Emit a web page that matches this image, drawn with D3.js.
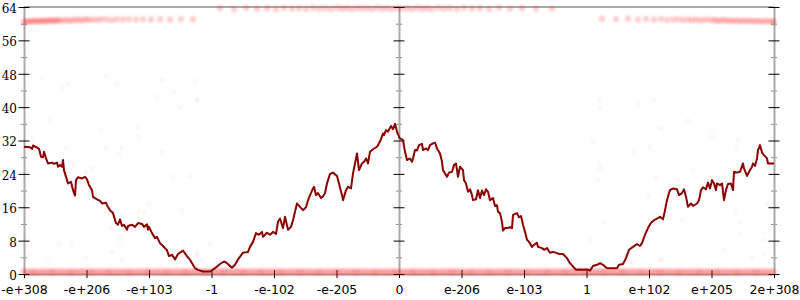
<!DOCTYPE html>
<html>
<head>
<meta charset="utf-8">
<script src="https://cdn.jsdelivr.net/npm/d3@7"></script>
<style>
  body { margin: 0; background: #fff; }
</style>
</head>
<body>
<svg id="chart"></svg>
<script>
const margin = {top: 7, right: 26, bottom: 26, left: 24},
    width = 800 - margin.left - margin.right,
    height = 300 - margin.top - margin.bottom;

// x is a bin index 0..750, labels sit on 12 equal steps
const binCount = 750;
const xTickLabels = ["-e+308", "-e+206", "-e+103", "-1", "-e-102", "-e-205", "0",
    "e-206", "e-103", "1", "e+102", "e+205", "2e+308"];
const yMajor = [0, 8, 16, 24, 32, 40, 48, 56, 64];
const yMinor = [4, 12, 20, 28, 36, 44, 52, 60];

// smoothed trend [bin, value]
const trend = [
    [0,30.5],[6,30.4],[8,30.0],[9,30.8],[13,30.3],[15,30.0],[17,28.1],[19,28.0],[20,29.3],[22,27.7],
    [24,26.5],[28,26.7],[30,26.4],[33,26.7],[34,25.7],[36,26.1],[38,25.7],[39,27.3],[40,24.9],[43,22.5],
    [44,21.7],[47,22.1],[49,20.1],[51,18.8],[52,22.5],[54,23.2],[58,22.9],[61,23.3],[63,22.7],[65,21.3],
    [68,20.1],[69,18.5],[73,17.9],[76,17.5],[78,16.9],[82,17.1],[83,16.5],[86,15.3],[89,14.6],[92,12.2],
    [94,11.8],[96,13.1],[98,11.5],[100,11.8],[103,10.6],[104,11.5],[108,11.8],[111,11.3],[114,12.2],[118,12.0],
    [120,11.3],[123,11.9],[124,10.6],[125,11.3],[128,9.8],[131,8.6],[133,8.9],[136,7.4],[139,6.7],[143,5.7],
    [145,4.3],[148,4.6],[151,3.5],[154,4.8],[159,5.6],[163,4.3],[166,3.4],[171,1.4],[174,1.0],[179,0.6],
    [186,0.6],[191,1.4],[196,2.4],[200,3.0],[203,2.6],[208,1.5],[211,2.2],[214,3.5],[219,5.1],[224,5.3],
    [226,6.5],[229,7.7],[232,9.8],[235,9.4],[238,10.1],[239,8.9],[243,9.9],[246,9.4],[249,10.1],[252,9.6],
    [254,12.5],[256,13.3],[259,11.0],[261,13.7],[264,10.6],[267,11.3],[269,12.9],[273,16.9],[276,16.1],[279,15.3],
    [282,16.0],[284,17.7],[288,20.0],[290,20.9],[292,18.9],[294,19.4],[297,18.2],[299,18.6],[301,19.4],[303,21.7],
    [306,24.0],[309,24.3],[313,23.5],[315,21.7],[318,18.9],[319,17.7],[322,20.1],[324,20.9],[327,20.5],[329,24.1],
    [331,26.5],[333,28.9],[335,24.9],[338,26.5],[340,26.9],[342,27.7],[344,26.5],[346,29.3],[349,29.9],[353,30.5],
    [355,31.3],[357,32.3],[359,33.7],[360,33.3],[362,34.5],[364,34.1],[367,35.5],[369,34.7],[371,36.0],[373,34.1],
    [375,32.9],[376,32.5],[379,32.1],[381,29.3],[383,27.3],[386,27.7],[388,26.9],[389,27.7],[391,29.7],[393,29.6],
    [395,30.9],[398,31.2],[399,29.7],[402,30.1],[404,29.7],[406,30.9],[409,31.3],[411,31.5],[413,30.1],[416,28.9],
    [418,26.9],[419,24.9],[423,23.3],[425,24.3],[428,24.5],[430,26.1],[432,26.5],[433,24.9],[434,23.3],[436,25.7],
    [439,24.9],[440,22.5],[442,21.7],[444,19.7],[446,20.3],[448,18.9],[449,17.7],[452,17.9],[454,20.1],[456,18.2],
    [458,20.0],[460,18.9],[462,20.3],[464,19.7],[466,17.7],[469,18.2],[471,16.3],[473,16.5],[474,14.9],[476,14.6],
    [478,12.5],[479,10.4],[481,11.0],[483,11.0],[486,11.2],[488,11.0],[489,14.1],[491,14.4],[493,14.6],[495,13.6],
    [497,13.9],[499,11.8],[501,10.1],[503,8.2],[505,7.7],[508,6.5],[510,7.0],[513,7.5],[514,6.5],[518,6.2],
    [520,5.8],[523,6.2],[526,5.1],[529,5.3],[533,5.0],[535,4.8],[539,4.8],[543,3.8],[546,2.6],[549,1.8],
    [552,1.0],[555,1.1],[559,1.0],[563,1.1],[566,0.8],[569,1.9],[573,2.2],[576,2.6],[579,2.2],[583,1.4],
    [588,1.4],[593,1.4],[595,2.2],[599,2.4],[602,3.8],[605,5.8],[609,6.5],[613,7.2],[616,6.7],[618,7.4],
    [621,9.4],[624,11.0],[627,12.3],[630,12.9],[633,13.3],[636,13.7],[639,13.1],[641,15.3],[643,17.7],[645,19.4],
    [646,20.1],[649,20.5],[653,20.3],[655,18.9],[658,19.4],[660,20.3],[662,18.5],[664,16.1],[667,16.9],[669,16.3],
    [673,16.9],[675,17.7],[677,20.1],[679,20.8],[682,20.3],[684,21.9],[686,20.5],[688,22.5],[690,21.7],[692,20.1],
    [693,21.7],[696,21.3],[698,21.7],[700,17.7],[702,20.1],[704,21.6],[707,21.7],[709,20.1],[710,24.5],[713,24.3],
    [716,24.5],[719,26.5],[720,25.3],[723,23.5],[725,24.5],[728,25.7],[729,26.5],[731,25.9],[733,27.7],[734,29.7],
    [736,30.9],[738,29.1],[740,28.5],[743,27.7],[744,26.5],[750,26.5]
];

// sparse raw samples [bin, value]
const scatter = [
    [18,46.9],[38,44.7],[44,45.6],[83,47.5],[93,45.7],[138,46.5],[133,42.5],[149,43.5],[171,46.3],[173,42.0],
    [25,36.8],[9,32.5],[43,30.1],[77,34.7],[82,30.4],[95,28.8],[98,30.1],[114,35.3],[115,32.8],[138,29.2],
    [50,26.1],[62,24.3],[69,25.3],[149,23.3],[166,23.3],[156,40.0],[173,41.7],[115,15.1],[120,14.7],[125,16.5],
    [158,15.2],[98,14.1],[86,11.0],[96,8.2],[35,7.0],[47,7.5],[3,8.6],[6,4.6],[24,2.4],[62,3.8],
    [88,5.3],[98,3.2],[136,2.2],[173,4.8],[186,7.0],[173,5.0],[179,3.5],[575,41.7],[615,40.8],[629,41.6],
    [576,39.6],[569,31.7],[609,29.1],[626,30.5],[637,34.9],[575,26.1],[576,25.2],[573,22.4],[632,23.0],[625,18.5],
    [580,12.4],[567,8.2],[609,2.7],[636,3.5],[664,36.8],[688,33.1],[714,32.1],[713,30.5],[669,25.1],[653,22.5],
    [743,16.9],[711,14.5],[716,12.5],[659,12.9],[716,9.8],[739,8.2],[700,5.6],[728,4.0],[740,4.6],[638,3.4]
];

// dense bands of raw samples
const bandTopLeft = [
    [0,60.4],[2,60.6],[4,60.5],[6,60.7],[8,60.5],[10,60.6],[12,60.8],[14,60.5],[16,60.7],[18,60.6],
    [20,60.8],[22,60.6],[24,60.7],[26,60.9],[28,60.6],[30,60.8],[32,60.7],[34,60.9],[36,60.7],[39,60.8],
    [42,60.9],[45,60.7],[48,60.9],[51,60.8],[54,61.0],[57,60.8],[60,60.9],[63,61.0],[66,60.9],[70,61.0],
    [74,60.9],[78,61.1],[83,61.0],[88,60.9],[93,61.1],[99,61.0],[105,61.1],[112,61.0],[119,61.1],[127,61.0],
    [136,61.1],[146,61.0],[157,61.1],[169,61.0]
];
const bandTopMid = [
    [196,63.7],[210,63.5],[222,63.8],[233,63.6],[243,63.7],[252,63.5],[260,63.8],[268,63.6],[275,63.7],[282,63.5],
    [289,63.8],[295,63.6],[301,63.7],[307,63.5],[313,63.8],[318,63.6],[323,63.7],[328,63.5],[333,63.8],[338,63.6],
    [343,63.7],[348,63.5],[353,63.8],[358,63.6],[363,63.7],[368,63.5],[373,63.8],[378,63.6],[383,63.7],[388,63.5],
    [393,63.8],[398,63.6],[403,63.7],[408,63.5],[414,63.8],[420,63.6],[426,63.7],[433,63.5],[440,63.8],[448,63.6],
    [456,63.7],[465,63.5],[475,63.8],[486,63.6],[498,63.7],[512,63.5],[528,63.6]
];
const bandTopRight = [
    [578,61.2],[592,61.1],[604,61.2],[614,61.0],[622,61.1],[630,61.0],[637,61.1],[643,60.9],[649,61.0],[654,61.1],
    [659,60.9],[664,61.0],[668,60.9],[672,61.0],[676,60.8],[680,60.9],[684,61.0],[688,60.8],[691,60.9],[694,60.7],
    [697,60.8],[700,60.9],[703,60.7],[706,60.8],[709,60.6],[712,60.8],[715,60.7],[718,60.6],[721,60.8],[724,60.6],
    [727,60.7],[730,60.5],[733,60.7],[736,60.6],[739,60.5],[742,60.7],[745,60.5],[748,60.6],[750,60.5]
];
const lowBandValue = 0.5;
const lowBandBins = [0,4,8,11,15,19,23,27,30,34,38,42,46,49,53,57,61,65,68,72,76,80,84,87,91,95,99,103,106,110,
    114,118,122,125,129,133,137,141,144,148,152,156,160,163,167,171,175,179,182,186,190,194,198,201,205,209,213,217,
    220,224,228,232,236,239,243,247,251,255,258,262,266,270,274,277,281,285,289,293,296,300,304,308,312,315,319,323,
    327,331,334,338,342,346,350,353,357,361,365,369,372,376,380,384,388,391,395,399,403,407,410,414,418,422,426,429,
    433,437,441,445,448,452,456,460,464,467,471,475,479,483,486,490,494,498,502,505,509,513,517,521,524,528,532,536,
    540,543,547,551,555,559,562,566,570,574,578,581,585,589,593,597,600,604,608,612,616,619,623,627,631,635,638,642,
    646,650,654,657,661,665,669,673,676,680,684,688,692,695,699,703,707,711,714,718,722,726,730,733,737,741,745,749];

const axisGray = "#aaa";

const root = d3.select("#chart")
    .attr("width", width + margin.left + margin.right)
    .attr("height", height + margin.top + margin.bottom);

// soft edges for the overlapping sample dots
root.append("defs").append("filter")
    .attr("id", "soft")
    .attr("x", "-20%").attr("y", "-50%").attr("width", "140%").attr("height", "200%")
    .append("feGaussianBlur")
    .attr("stdDeviation", 1);

const svg = root.append("g")
    .attr("transform", "translate(" + margin.left + "," + margin.top + ")");

const x = d3.scaleLinear().domain([0, binCount]).range([0, width]);
const y = d3.scaleLinear().domain([0, 64]).range([height, 0]);
const xTicks = xTickLabels.map(function (d, i) { return i * binCount / (xTickLabels.length - 1); });

// top frame line
svg.append("line")
    .attr("x1", x(0)).attr("x2", x(binCount))
    .attr("y1", y(64)).attr("y2", y(64))
    .attr("stroke", axisGray).attr("stroke-width", 2);

// x axis
const xAxis = svg.append("g")
    .attr("class", "x-axis")
    .attr("transform", "translate(0," + height + ")")
    .call(d3.axisBottom(x)
        .tickValues(xTicks)
        .tickFormat(function (d, i) { return xTickLabels[i]; })
        .tickSize(4)
        .tickSizeOuter(0)
        .tickPadding(7));
xAxis.select(".domain").attr("stroke", axisGray).attr("stroke-width", 2);
xAxis.selectAll(".tick line").attr("y1", -4).attr("stroke", "#000");
xAxis.selectAll(".tick text")
    .attr("font-family", "DejaVu Sans")
    .attr("font-size", "12.5px");

// three vertical axes: left with labels, middle and right ticks only
[0, binCount / 2, binCount].forEach(function (pos, k) {
    const yg = svg.append("g")
        .attr("class", "y-axis")
        .attr("transform", "translate(" + x(pos) + ",0)");

    yg.append("g")
        .call(d3.axisLeft(y).tickValues(yMinor).tickSize(3).tickFormat(""))
        .call(function (g) { g.select(".domain").remove(); })
        .selectAll(".tick line").attr("x1", 3).attr("stroke", "#888");

    const major = yg.append("g")
        .call(d3.axisLeft(y)
            .tickValues(yMajor)
            .tickSize(5.5)
            .tickSizeOuter(0)
            .tickPadding(1.5)
            .tickFormat(k === 0 ? d3.format("d") : ""));
    major.select(".domain").attr("stroke", axisGray).attr("stroke-width", 2);
    major.selectAll(".tick line").attr("x1", 5.5).attr("stroke", "#000");
    major.selectAll(".tick text")
        .attr("dy", "0.45em")
        .attr("font-family", "DejaVu Serif")
        .attr("font-size", "12px");
});

// raw samples
const dots = svg.append("g").attr("class", "samples").attr("fill", "red");

dots.append("g").attr("filter", "url(#soft)")
    .selectAll(".low")
    .data(lowBandBins)
    .enter().append("circle")
    .attr("class", "low")
    .attr("cx", function (d) { return x(d); })
    .attr("cy", y(lowBandValue))
    .attr("r", 3.6)
    .attr("fill-opacity", 0.24);

dots.append("g").attr("filter", "url(#soft)")
    .selectAll(".band")
    .data(bandTopLeft.concat(bandTopMid, bandTopRight))
    .enter().append("circle")
    .attr("class", "band")
    .attr("cx", function (d) { return x(d[0]); })
    .attr("cy", function (d) { return y(d[1]); })
    .attr("r", 3.2)
    .attr("fill-opacity", 0.19);

dots.selectAll(".scatter")
    .data(scatter)
    .enter().append("circle")
    .attr("class", "scatter")
    .attr("cx", function (d) { return x(d[0]); })
    .attr("cy", function (d) { return y(d[1]); })
    .attr("r", 2.5)
    .attr("fill-opacity", 0.035);

// trend line
const line = d3.line()
    .x(function (d) { return x(d[0]); })
    .y(function (d) { return y(d[1]); });

svg.append("path")
    .datum(trend)
    .attr("fill", "none")
    .attr("stroke", "#8b0000")
    .attr("stroke-width", 2)
    .attr("stroke-linejoin", "round")
    .attr("d", line);
</script>
</body>
</html>
